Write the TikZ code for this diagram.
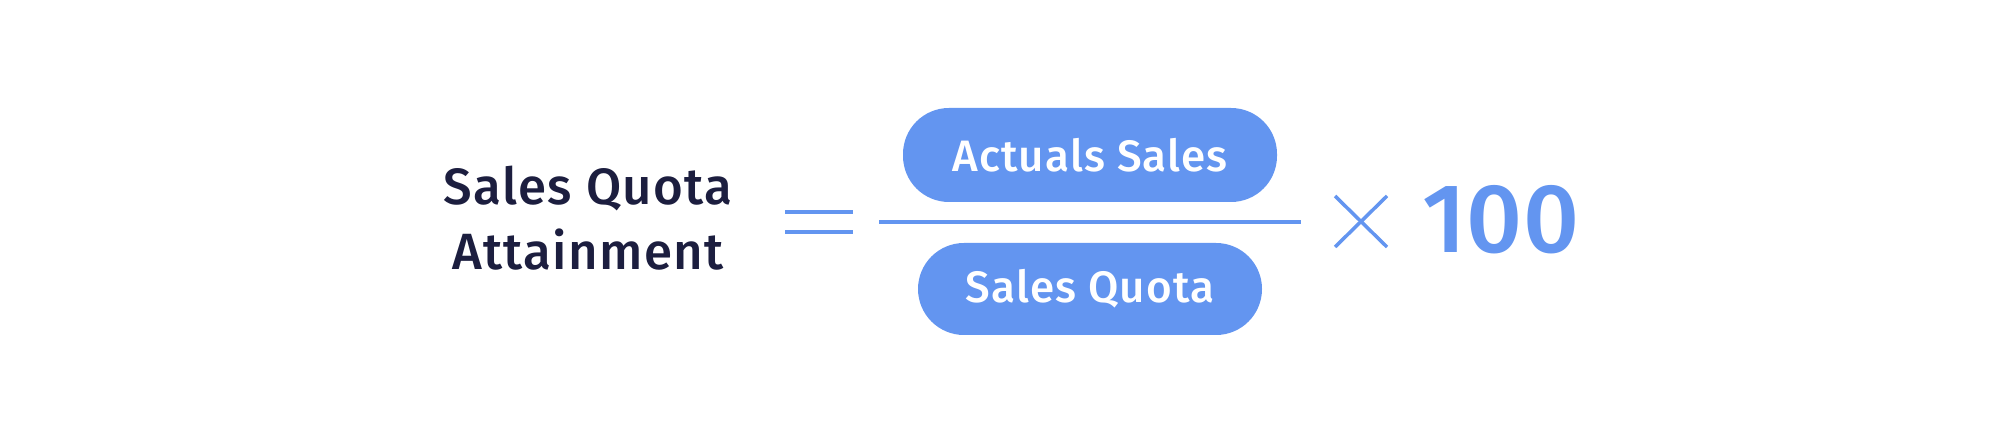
\documentclass[tikz,border=0pt]{standalone}
\usepackage{fontspec}
\setmainfont{Fira Sans}[BoldFont={Fira Sans Medium}]
\newfontfamily\widefont{Fira Sans Medium}[LetterSpace=2.5]
\definecolor{blu}{RGB}{99,149,240}
\definecolor{navy}{RGB}{28,30,63}
\begin{document}
\begin{tikzpicture}[x=1pt,y=1pt,
  pill/.style={fill=blu,rounded corners=46pt,inner sep=0pt,text=white,font=\widefont\fontsize{44}{50}\selectfont},
  ttl/.style={anchor=base,inner sep=0pt,text=navy,font=\widefont\fontsize{51}{60}\selectfont},
  bar/.style={draw=blu,line width=4pt}]
\useasboundingbox[fill=white] (0,0) rectangle (2000,444);
\node[ttl] (t1) at (588,239) {Sales Quota};
\node[ttl] (t2) at (588,174) {Attainment};
\coordinate (e1a) at (785,232); \coordinate (e1b) at (853,232);
\coordinate (e2a) at (785,212); \coordinate (e2b) at (853,212);
\draw[bar] (e1a) -- (e1b);
\draw[bar] (e2a) -- (e2b);
\node[pill,minimum width=374pt,minimum height=94pt] (num) at (1090,289) {Actuals Sales};
\coordinate (fa) at (879,222); \coordinate (fb) at (1301,222);
\draw[bar] (fa) -- (fb);
\node[pill,minimum width=344pt,minimum height=92pt] (den) at (1090,155) {Sales Quota};
\coordinate (x1) at (1335,248); \coordinate (x2) at (1387,197);
\coordinate (x3) at (1335,197); \coordinate (x4) at (1387,248);
\draw[draw=blu,line width=3.5pt] (x1) -- (x2);
\draw[draw=blu,line width=3.5pt] (x3) -- (x4);
\node[anchor=base,inner sep=0pt,text=blu,font=\bfseries\fontsize{98}{110}\selectfont] (hund) at (1501,191) {100};
\end{tikzpicture}
\end{document}
